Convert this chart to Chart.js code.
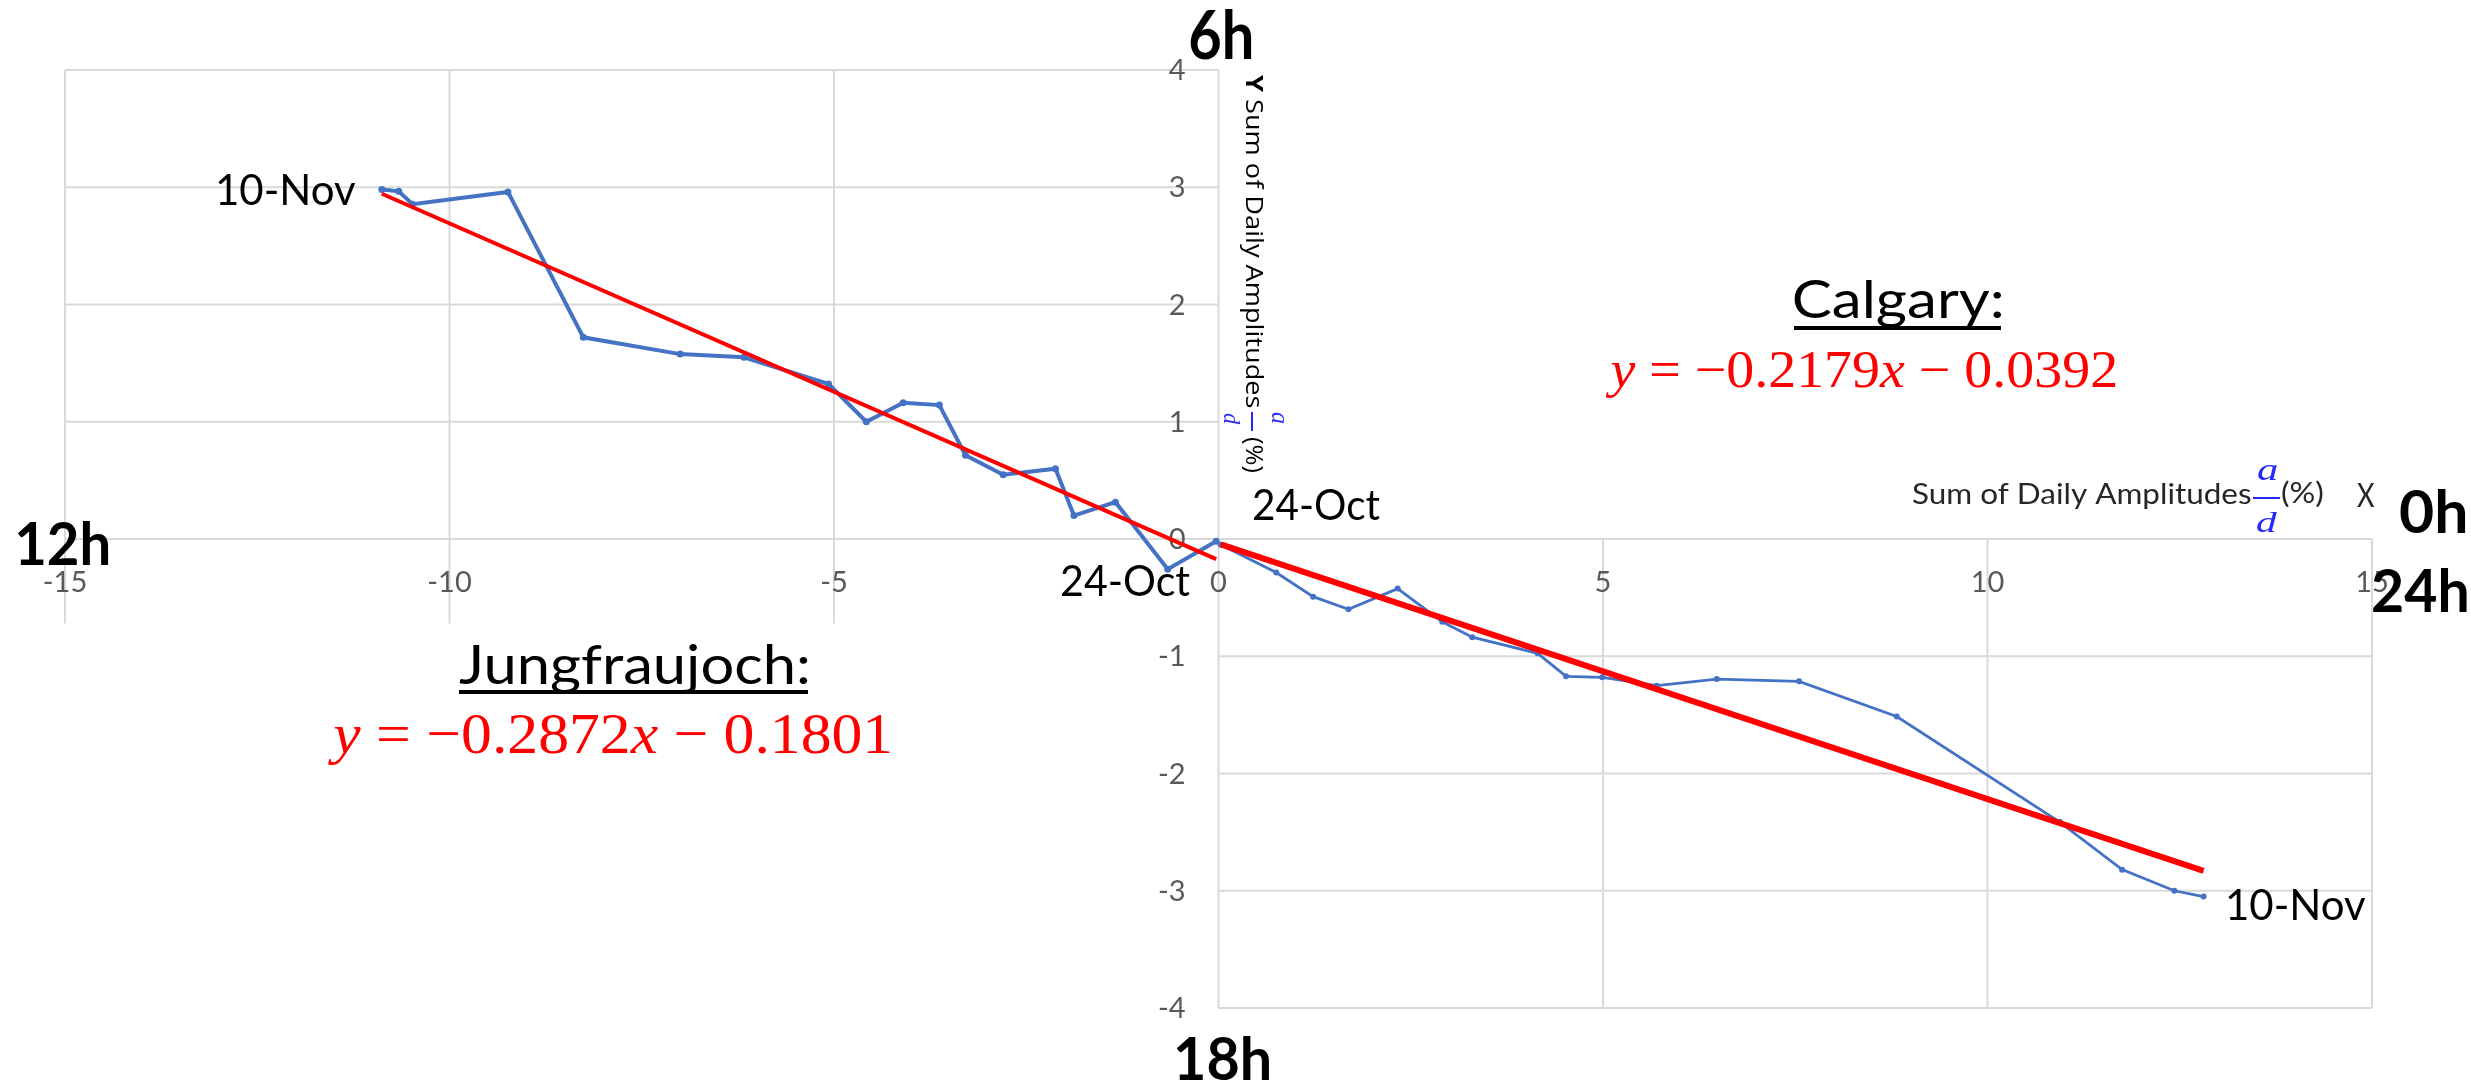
<!DOCTYPE html>
<html>
<head>
<meta charset="utf-8">
<title>Sum of Daily Amplitudes – Jungfraujoch and Calgary</title>
<script src="https://cdn.jsdelivr.net/npm/chart.js@4/dist/chart.umd.min.js"></script>
<style>
  html, body { margin: 0; padding: 0; background: #ffffff; }
  canvas { display: block; }
</style>
</head>
<body>
<canvas id="chart" width="2471" height="1088"></canvas>
<script>
// ---- data -----------------------------------------------------------------
// Cumulative sum of daily amplitudes a/d (%), one point per day, 24-Oct → 10-Nov.
// Jungfraujoch (upper-left quadrant)
const jfX = [-0.03, -0.66, -1.34, -1.88, -2.12, -2.80, -3.29, -3.63, -4.10, -4.58,
             -5.07, -6.17, -7.00, -8.26, -9.24, -10.48, -10.66, -10.88];
const jfY = [-0.02, -0.257, 0.314, 0.200, 0.600, 0.548, 0.714, 1.142, 1.162, 1.000,
             1.322, 1.550, 1.577, 1.720, 2.960, 2.856, 2.965, 2.980];
// Calgary (lower-right quadrant)
const cgX = [0.03, 0.75, 1.23, 1.69, 2.33, 2.91, 3.30, 4.15, 4.52, 4.99,
             5.70, 6.48, 7.55, 8.82, 10.94, 11.75, 12.43, 12.81];
const cgY = [-0.050, -0.286, -0.492, -0.600, -0.423, -0.706, -0.837, -0.975, -1.171, -1.180,
             -1.251, -1.195, -1.214, -1.514, -2.414, -2.820, -3.000, -3.050];

// Linear fits (slope, intercept)
const jfFit = [-0.2872, -0.1801];
const cgFit = [-0.2179, -0.0392];

// Axis ticks
const xTicks = [-15, -10, -5, 0, 5, 10, 15];
const yTicks = [4, 3, 2, 1, 0, -1, -2, -3, -4];

// Text
const stationNames = ['Jungfraujoch:', 'Calgary:'];
const dateLabels = ['24-Oct', '10-Nov'];
const hourLabels = ['6h', '12h', '0h', '24h', '18h'];
const axisTitle = 'Sum of Daily Amplitudes';

// ---- helpers --------------------------------------------------------------
const toPoints = (xs, ys) => xs.map((x, i) => ({ x: x, y: ys[i] }));
function fitLine(xs, fit) {
  const lo = Math.min.apply(null, xs), hi = Math.max.apply(null, xs);
  return [lo, hi].map(x => ({ x: x, y: fit[0] * x + fit[1] }));
}
function equationText(fit) {
  const s = fit[0] < 0 ? '\u2212' : '';
  const op = fit[1] < 0 ? ' \u2212 ' : ' + ';
  return [
    { t: 'y', f: 'italic' },
    { t: ' = ' + s + Math.abs(fit[0]).toFixed(4), f: '' },
    { t: 'x', f: 'italic' },
    { t: op + Math.abs(fit[1]).toFixed(4), f: '' }
  ];
}

// Draw a run of text segments so that its ink spans [left, right] on the baseline.
function drawRun(ctx, segs, left, right, baseline, color) {
  let total = 0;
  segs.forEach(s => { ctx.font = s.font; s.w = ctx.measureText(s.t).width; total += s.w; });
  ctx.font = segs[0].font;
  const m0 = ctx.measureText(segs[0].t);
  const last = segs[segs.length - 1];
  ctx.font = last.font;
  const m1 = ctx.measureText(last.t);
  const ink = total - last.w + m1.actualBoundingBoxRight + m0.actualBoundingBoxLeft;
  const sx = (right - left) / ink;
  ctx.save();
  ctx.translate(left + m0.actualBoundingBoxLeft * sx, baseline);
  ctx.scale(sx, 1);
  ctx.fillStyle = color;
  ctx.textAlign = 'left';
  ctx.textBaseline = 'alphabetic';
  let cx = 0;
  segs.forEach(s => { ctx.font = s.font; ctx.fillText(s.t, cx, 0); cx += s.w; });
  ctx.restore();
}
const drawFit = (ctx, text, font, left, right, baseline, color) =>
  drawRun(ctx, [{ t: text, font: font }], left, right, baseline, color);

// ---- plugins --------------------------------------------------------------
const GRID = '#d9d9d9';
const TICK = '#595959';

const quadrantGrid = {
  id: 'quadrantGrid',
  beforeDatasetsDraw(chart) {
    const { ctx } = chart;
    const sx = chart.scales.x, sy = chart.scales.y;
    const px = v => sx.getPixelForValue(v), py = v => sy.getPixelForValue(v);
    const seg = (x1, y1, x2, y2) => {
      ctx.beginPath();
      ctx.moveTo(px(x1), py(y1));
      ctx.lineTo(px(x2), py(y2));
      ctx.stroke();
    };
    ctx.save();
    ctx.strokeStyle = GRID;
    ctx.lineWidth = 2;
    // upper-left panel (Jungfraujoch) and lower-right panel (Calgary)
    xTicks.forEach(v => {
      if (v < 0) seg(v, 4, v, -0.72);
      else if (v > 0) seg(v, 0, v, -4);
      else seg(0, 4, 0, -4);
    });
    yTicks.forEach(v => {
      if (v >= 0) seg(-15, v, 0, v);
      if (v <= 0) seg(0, v, 15, v);
    });

    // tick labels placed next to the crossing axes
    ctx.fillStyle = TICK;
    ctx.font = '29px Lato';
    ctx.textBaseline = 'alphabetic';
    ctx.textAlign = 'center';
    const y0 = py(0), x0 = px(0);
    xTicks.forEach(v => ctx.fillText(String(v), px(v), y0 + 53));
    ctx.textAlign = 'right';
    yTicks.forEach(v => ctx.fillText(String(v), x0 - 33, py(v) + 10));
    ctx.restore();
  }
};

const annotations = {
  id: 'annotations',
  afterDatasetsDraw(chart) {
    const { ctx } = chart;
    ctx.save();

    // hour markers
    const hourFont = s => 'bold ' + s + 'px Lato';
    drawFit(ctx, hourLabels[0], hourFont(67), 1190, 1252, 59, '#000');
    drawFit(ctx, hourLabels[1], hourFont(59), 17, 108, 565, '#000');
    drawFit(ctx, hourLabels[2], hourFont(59), 2400, 2465, 533, '#000');
    drawFit(ctx, hourLabels[3], hourFont(60), 2373, 2467, 612, '#000');
    drawFit(ctx, hourLabels[4], hourFont(59), 1176, 1269, 1080, '#000');

    // date markers at both ends of each series
    const dateFont = '42px Lato';
    drawFit(ctx, dateLabels[1], dateFont, 218, 356, 205, '#000');
    drawFit(ctx, dateLabels[0], dateFont, 1061, 1190, 596, '#000');
    drawFit(ctx, dateLabels[0], dateFont, 1253, 1380, 520, '#000');
    drawFit(ctx, dateLabels[1], dateFont, 2228, 2366, 920, '#000');

    // station names, underlined
    drawFit(ctx, stationNames[0], '55px Lato', 459, 808, 684, '#000');
    ctx.fillStyle = '#000';
    ctx.fillRect(459, 690, 349, 4);
    drawFit(ctx, stationNames[1], '53px Lato', 1794, 2001, 318, '#000');
    ctx.fillRect(1794, 326, 207, 4);

    // fit equations
    const eq = (fit, size) => equationText(fit).map(s => ({
      t: s.t, font: (s.f ? s.f + ' ' : '') + size + 'px "Liberation Serif"'
    }));
    drawRun(ctx, eq(jfFit, 58), 328, 890, 753, '#ff0000');
    drawRun(ctx, eq(cgFit, 52), 1605, 2116, 387, '#ff0000');

    // horizontal axis title: Sum of Daily Amplitudes a/d (%)  X
    const blue = '#2626ff';
    drawFit(ctx, axisTitle, '29px Lato', 1912, 2251, 504, '#262626');
    drawFit(ctx, 'a', 'italic 32px "Liberation Serif"', 2257, 2277, 480, blue);
    ctx.fillStyle = blue;
    ctx.fillRect(2253, 497, 27, 2);
    drawFit(ctx, 'd', 'italic 30px "Liberation Serif"', 2256, 2278, 532, blue);
    drawFit(ctx, '(%)', '29px Lato', 2282, 2323, 503, '#262626');
    drawFit(ctx, 'X', '33px Lato', 2357, 2375, 507, '#262626');

    // vertical axis title, reading downwards
    ctx.save();
    ctx.translate(1246, 75);
    ctx.rotate(Math.PI / 2);
    drawRun(ctx, [
      { t: 'Y', font: 'bold 24px "Open Sans"' },
      { t: ' ' + axisTitle, font: '24px "Open Sans"' }
    ], 0, 333, 0, '#000');
    drawFit(ctx, 'a', 'italic 26px "Liberation Serif"', 337, 349, -26, blue);
    ctx.fillStyle = blue;
    ctx.fillRect(337, -7, 19, 2);
    drawFit(ctx, 'd', 'italic 24px "Liberation Serif"', 338, 350, 22, blue);
    drawFit(ctx, '(%)', '24px "Open Sans"', 362, 398, 0, '#000');
    ctx.restore();

    ctx.restore();
  }
};

// ---- chart ----------------------------------------------------------------
const BLUE = '#4472c4';
const RED = '#ff0000';

new Chart(document.getElementById('chart').getContext('2d'), {
  type: 'scatter',
  data: {
    datasets: [
      {
        label: 'Jungfraujoch fit',
        data: fitLine(jfX, jfFit),
        showLine: true, borderColor: RED, borderWidth: 4,
        pointRadius: 0, order: 0
      },
      {
        label: 'Calgary fit',
        data: fitLine(cgX, cgFit),
        showLine: true, borderColor: RED, borderWidth: 6,
        pointRadius: 0, order: 0
      },
      {
        label: 'Jungfraujoch',
        data: toPoints(jfX, jfY),
        showLine: true, borderColor: BLUE, backgroundColor: BLUE, borderWidth: 4,
        pointRadius: 3.5, pointBorderWidth: 0, pointBackgroundColor: BLUE, order: 1
      },
      {
        label: 'Calgary',
        data: toPoints(cgX, cgY),
        showLine: true, borderColor: BLUE, backgroundColor: BLUE, borderWidth: 2.8,
        pointRadius: 3, pointBorderWidth: 0, pointBackgroundColor: BLUE, order: 1
      }
    ]
  },
  options: {
    responsive: false,
    animation: false,
    devicePixelRatio: 1,
    events: [],
    layout: { padding: { left: 65, right: 99, top: 70, bottom: 80 } },
    scales: {
      x: { type: 'linear', min: -15, max: 15, display: false },
      y: { type: 'linear', min: -4, max: 4, display: false }
    },
    plugins: { legend: { display: false }, tooltip: { enabled: false } }
  },
  plugins: [quadrantGrid, annotations]
});
</script>
</body>
</html>
